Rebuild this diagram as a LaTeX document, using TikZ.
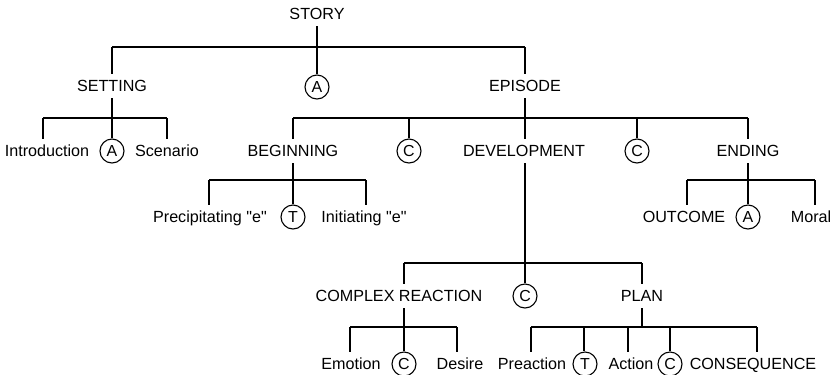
\documentclass[tikz,border=0pt]{standalone}
\usepackage{fontspec}
\setmainfont{Liberation Sans}
\newfontfamily\lsans{Liberation Sans}
\newcommand\drop[3]{\coordinate (tmpd) at (#1,#2); \draw (tmpd) -- (tmpd |- #3.north);}
\newcommand\stem[3]{\coordinate (tmpa) at (#2,#3); \draw (tmpa |- #1.south) -- (tmpa);}
\begin{document}
\begin{tikzpicture}[x=1bp,y=-1bp,line width=1.1bp,
  lbl/.style={font=\lsans\fontsize{16.2}{19}\selectfont, inner xsep=0pt, inner ysep=6bp, text height=11.6bp, text depth=0pt},
  circ/.style={draw, circle, minimum size=24bp, inner sep=0pt, font=\lsans\fontsize{16}{19}\selectfont}]
\useasboundingbox (0,0) rectangle (831,374);
% nodes
\node[lbl] (story) at (317,14) {STORY};
\node[lbl] (setting) at (112,86) {SETTING};
\node[circ] (a1) at (317,87) {A};
\node[lbl] (episode) at (525,86) {EPISODE};
\node[lbl] (intro) at (47,151) {Introduction};
\node[circ] (a2) at (112,151) {A};
\node[lbl] (scen) at (167,151) {Scenario};
\node[lbl] (begin) at (293,151) {BEGINNING};
\node[circ] (c1) at (409,151) {C};
\node[lbl] (devel) at (524,151) {DEVELOPMENT};
\node[circ] (c2) at (637,151) {C};
\node[lbl] (ending) at (748,151) {ENDING};
\node[lbl] (precip) at (210,217) {Precipitating "e"};
\node[circ] (t1) at (293,217) {T};
\node[lbl] (init) at (364,217) {Initiating "e"};
\node[lbl] (outcome) at (684,217) {OUTCOME};
\node[circ] (a3) at (748,217) {A};
\node[lbl] (moral) at (811,217) {Moral};
\node[lbl] (cr) at (399,296) {COMPLEX REACTION};
\node[circ] (c3) at (525,296) {C};
\node[lbl] (plan) at (642,296) {PLAN};
\node[lbl] (emotion) at (351,364) {Emotion};
\node[circ] (c4) at (404,364) {C};
\node[lbl] (desire) at (460,364) {Desire};
\node[lbl] (preact) at (532,364) {Preaction};
\node[circ] (t2) at (585,364) {T};
\node[lbl] (action) at (631,364) {Action};
\node[circ] (c5) at (670,364) {C};
\node[lbl] (conseq) at (753,364) {CONSEQUENCE};
% STORY
\stem{story}{317}{47}
\draw (112,47) -- (525,47);
\drop{112}{47}{setting}
\drop{317}{47}{a1}
\drop{525}{47}{episode}
% SETTING
\stem{setting}{112}{118}
\draw (43,118) -- (167,118);
\drop{43}{118}{intro}
\drop{112}{118}{a2}
\drop{167}{118}{scen}
% EPISODE
\stem{episode}{525}{118}
\draw (293,118) -- (748,118);
\drop{293}{118}{begin}
\drop{409}{118}{c1}
\drop{525}{118}{devel}
\drop{637}{118}{c2}
\drop{748}{118}{ending}
% BEGINNING
\stem{begin}{293}{180}
\draw (209,180) -- (366,180);
\drop{209}{180}{precip}
\drop{293}{180}{t1}
\drop{366}{180}{init}
% ENDING
\stem{ending}{748}{180}
\draw (687,180) -- (815,180);
\drop{687}{180}{outcome}
\drop{748}{180}{a3}
\drop{815}{180}{moral}
% DEVELOPMENT
\stem{devel}{525}{263}
\draw (404,263) -- (642,263);
\drop{404}{263}{cr}
\drop{525}{263}{c3}
\drop{642}{263}{plan}
% COMPLEX REACTION
\stem{cr}{404}{327}
\draw (350,327) -- (457,327);
\drop{350}{327}{emotion}
\drop{404}{327}{c4}
\drop{457}{327}{desire}
% PLAN
\stem{plan}{642}{327}
\draw (531,327) -- (757,327);
\drop{531}{327}{preact}
\drop{584}{327}{t2}
\drop{628}{327}{action}
\drop{670}{327}{c5}
\drop{757}{327}{conseq}
\end{tikzpicture}
\end{document}
